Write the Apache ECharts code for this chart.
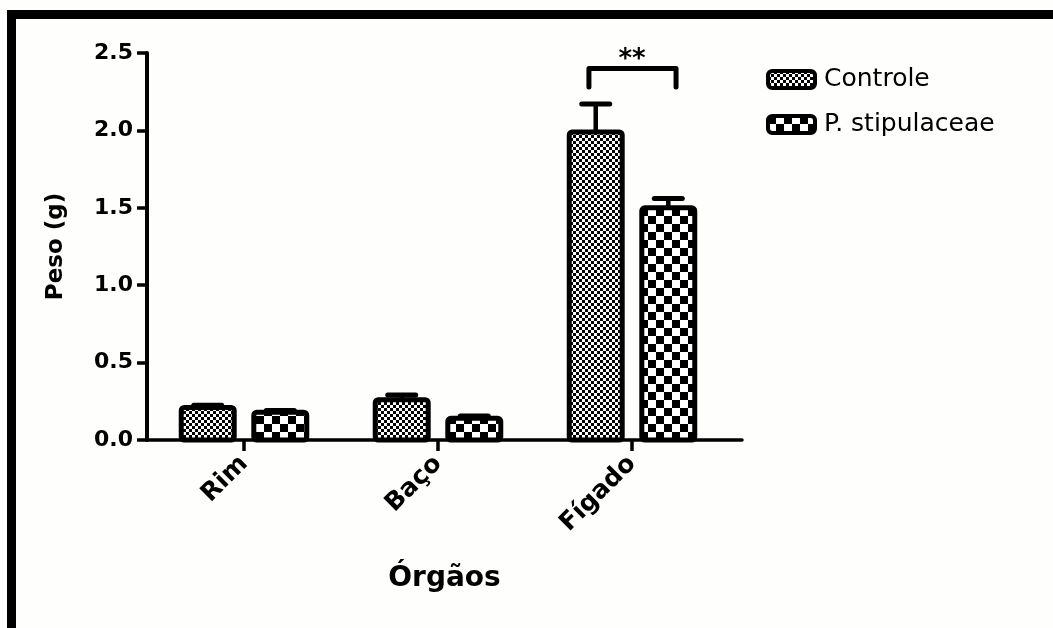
<!DOCTYPE html>
<html>
<head>
<meta charset="utf-8">
<script src="https://cdn.jsdelivr.net/npm/echarts@6/dist/echarts.min.js"></script>
<style>
  html, body { margin: 0; padding: 0; background: #fefefc; }
  #frame {
    position: absolute; left: 7px; top: 10px; right: 0; bottom: 0;
    border-top: 9px solid #000; border-left: 9px solid #000;
  }
  #chart { position: absolute; left: 0; top: 0; width: 1053px; height: 628px; }
</style>
</head>
<body>
<div id="frame"></div>
<div id="chart"></div>
<script>
// Organ weights (g), mean and SEM per group
const categories = ['Rim', 'Baço', 'Fígado'];
const groupNames = ['Controle', 'P. stipulaceae'];
const controleMean = [0.21, 0.26, 1.99];
const controleSem = [0.015, 0.03, 0.18];
const stipMean = [0.18, 0.14, 1.50];
const stipSem = [0.01, 0.015, 0.06];

// Significance bracket over Fígado: category, bracket top, leg bottom, label
const sigCategory = [2];
const sigBracketTop = [2.40];
const sigLegBottom = [2.28];
const sigLabel = ['**'];

// Checkerboard fills for the two groups
function checker(cell) {
  const c = document.createElement('canvas');
  c.width = c.height = cell * 2;
  const g = c.getContext('2d');
  g.fillStyle = '#fff';
  g.fillRect(0, 0, cell * 2, cell * 2);
  g.fillStyle = '#000';
  g.fillRect(0, 0, cell, cell);
  g.fillRect(cell, cell, cell, cell);
  return c;
}
const fineFill = { image: checker(3), repeat: 'repeat' };
const coarseFill = { image: checker(8), repeat: 'repeat' };

const BAR_W = 0.273;      // bar width in category units
const OFFSET = 0.187;     // distance of each bar from the category centre
const CAP = 28;           // error-bar cap width (px)
const INK = '#000';

function barRenderer(offset, fill) {
  return function (params, api) {
    const i = api.value(0), m = api.value(1), s = api.value(2);
    const x = i + offset;
    const base = api.coord([x, 0]);
    const top = api.coord([x, m]);
    const errTop = api.coord([x, m + s]);
    const w = api.size([BAR_W, 0])[0];
    return {
      type: 'group',
      children: [
        { type: 'line', shape: { x1: top[0], y1: top[1], x2: errTop[0], y2: errTop[1] },
          style: { stroke: INK, lineWidth: 4.5 } },
        { type: 'line', shape: { x1: top[0] - CAP / 2, y1: errTop[1], x2: top[0] + CAP / 2, y2: errTop[1] },
          style: { stroke: INK, lineWidth: 5, lineCap: 'round' } },
        { type: 'rect', shape: { x: top[0] - w / 2, y: top[1], width: w, height: base[1] - top[1], r: 3 },
          style: { fill: fill, stroke: INK, lineWidth: 5 } }
      ]
    };
  };
}

const chart = echarts.init(document.getElementById('chart'), null, { renderer: 'canvas' });
const boldFont = 'DejaVu Sans';

chart.setOption({
  animation: false,
  grid: { left: 147, top: 53, right: 311, bottom: 188 },
  legend: {
    orient: 'vertical', left: 766, top: 67, padding: 0,
    icon: 'roundRect', itemWidth: 47, itemHeight: 17, itemGap: 20,
    textStyle: { fontFamily: boldFont, fontSize: 25, color: INK, padding: [0, 0, 0, 4], lineHeight: 24 },
    data: [
      { name: groupNames[0], itemStyle: { color: fineFill, borderColor: INK, borderWidth: 4 } },
      { name: groupNames[1], itemStyle: { color: coarseFill, borderColor: INK, borderWidth: 4 } }
    ]
  },
  xAxis: {
    type: 'value', min: -0.5, max: 2.567,
    splitLine: { show: false },
    axisLine: { show: true, onZero: false, lineStyle: { color: INK, width: 3.5 } },
    axisTick: { show: true, customValues: [0, 1, 2], length: 11, lineStyle: { color: INK, width: 3.5 } },
    axisLabel: {
      customValues: [0, 1, 2], formatter: v => categories[v], rotate: 45, margin: 20,
      fontFamily: boldFont, fontWeight: 'bold', fontSize: 25, color: INK
    },
    name: 'Órgãos', nameLocation: 'middle', nameGap: 125,
    nameTextStyle: { fontFamily: boldFont, fontWeight: 'bold', fontSize: 28, color: INK }
  },
  yAxis: {
    type: 'value', min: 0, max: 2.5, interval: 0.5,
    splitLine: { show: false },
    axisLine: { show: true, onZero: false, lineStyle: { color: INK, width: 4 } },
    axisTick: { show: true, length: 10, lineStyle: { color: INK, width: 3.5 } },
    axisLabel: {
      formatter: v => v.toFixed(1), margin: 14,
      fontFamily: boldFont, fontWeight: 'bold', fontSize: 22, color: INK
    },
    name: 'Peso (g)', nameLocation: 'middle', nameGap: 79,
    nameTextStyle: { fontFamily: boldFont, fontWeight: 'bold', fontSize: 23, color: INK }
  },
  series: [
    {
      name: groupNames[0], type: 'custom', itemStyle: { color: fineFill },
      renderItem: barRenderer(-OFFSET, fineFill),
      encode: { x: 0, y: 1 },
      data: categories.map((c, i) => [i, controleMean[i], controleSem[i]])
    },
    {
      name: groupNames[1], type: 'custom', itemStyle: { color: coarseFill },
      renderItem: barRenderer(OFFSET, coarseFill),
      encode: { x: 0, y: 1 },
      data: categories.map((c, i) => [i, stipMean[i], stipSem[i]])
    },
    {
      name: 'sig', type: 'custom', silent: true,
      encode: { x: 0, y: 1 },
      data: sigCategory.map((c, k) => [c, sigBracketTop[k], sigLegBottom[k], k]),
      renderItem: function (params, api) {
        const c = api.value(0), topV = api.value(1), legV = api.value(2), k = api.value(3);
        const l = api.coord([c - 0.222, topV]);
        const r = api.coord([c + 0.227, topV]);
        const lb = api.coord([c - 0.222, legV]);
        const rb = api.coord([c + 0.227, legV]);
        const mid = api.coord([c, topV]);
        return {
          type: 'group',
          children: [
            { type: 'polyline', shape: { points: [lb, l, r, rb] },
              style: { stroke: INK, lineWidth: 5, fill: null, lineJoin: 'round', lineCap: 'round' } },
            { type: 'text', x: mid[0], y: mid[1] - 8,
              style: { text: sigLabel[k], fill: INK, font: 'bold 26px "DejaVu Sans"',
                       align: 'center', verticalAlign: 'middle' } }
          ]
        };
      }
    }
  ]
});
</script>
</body>
</html>
